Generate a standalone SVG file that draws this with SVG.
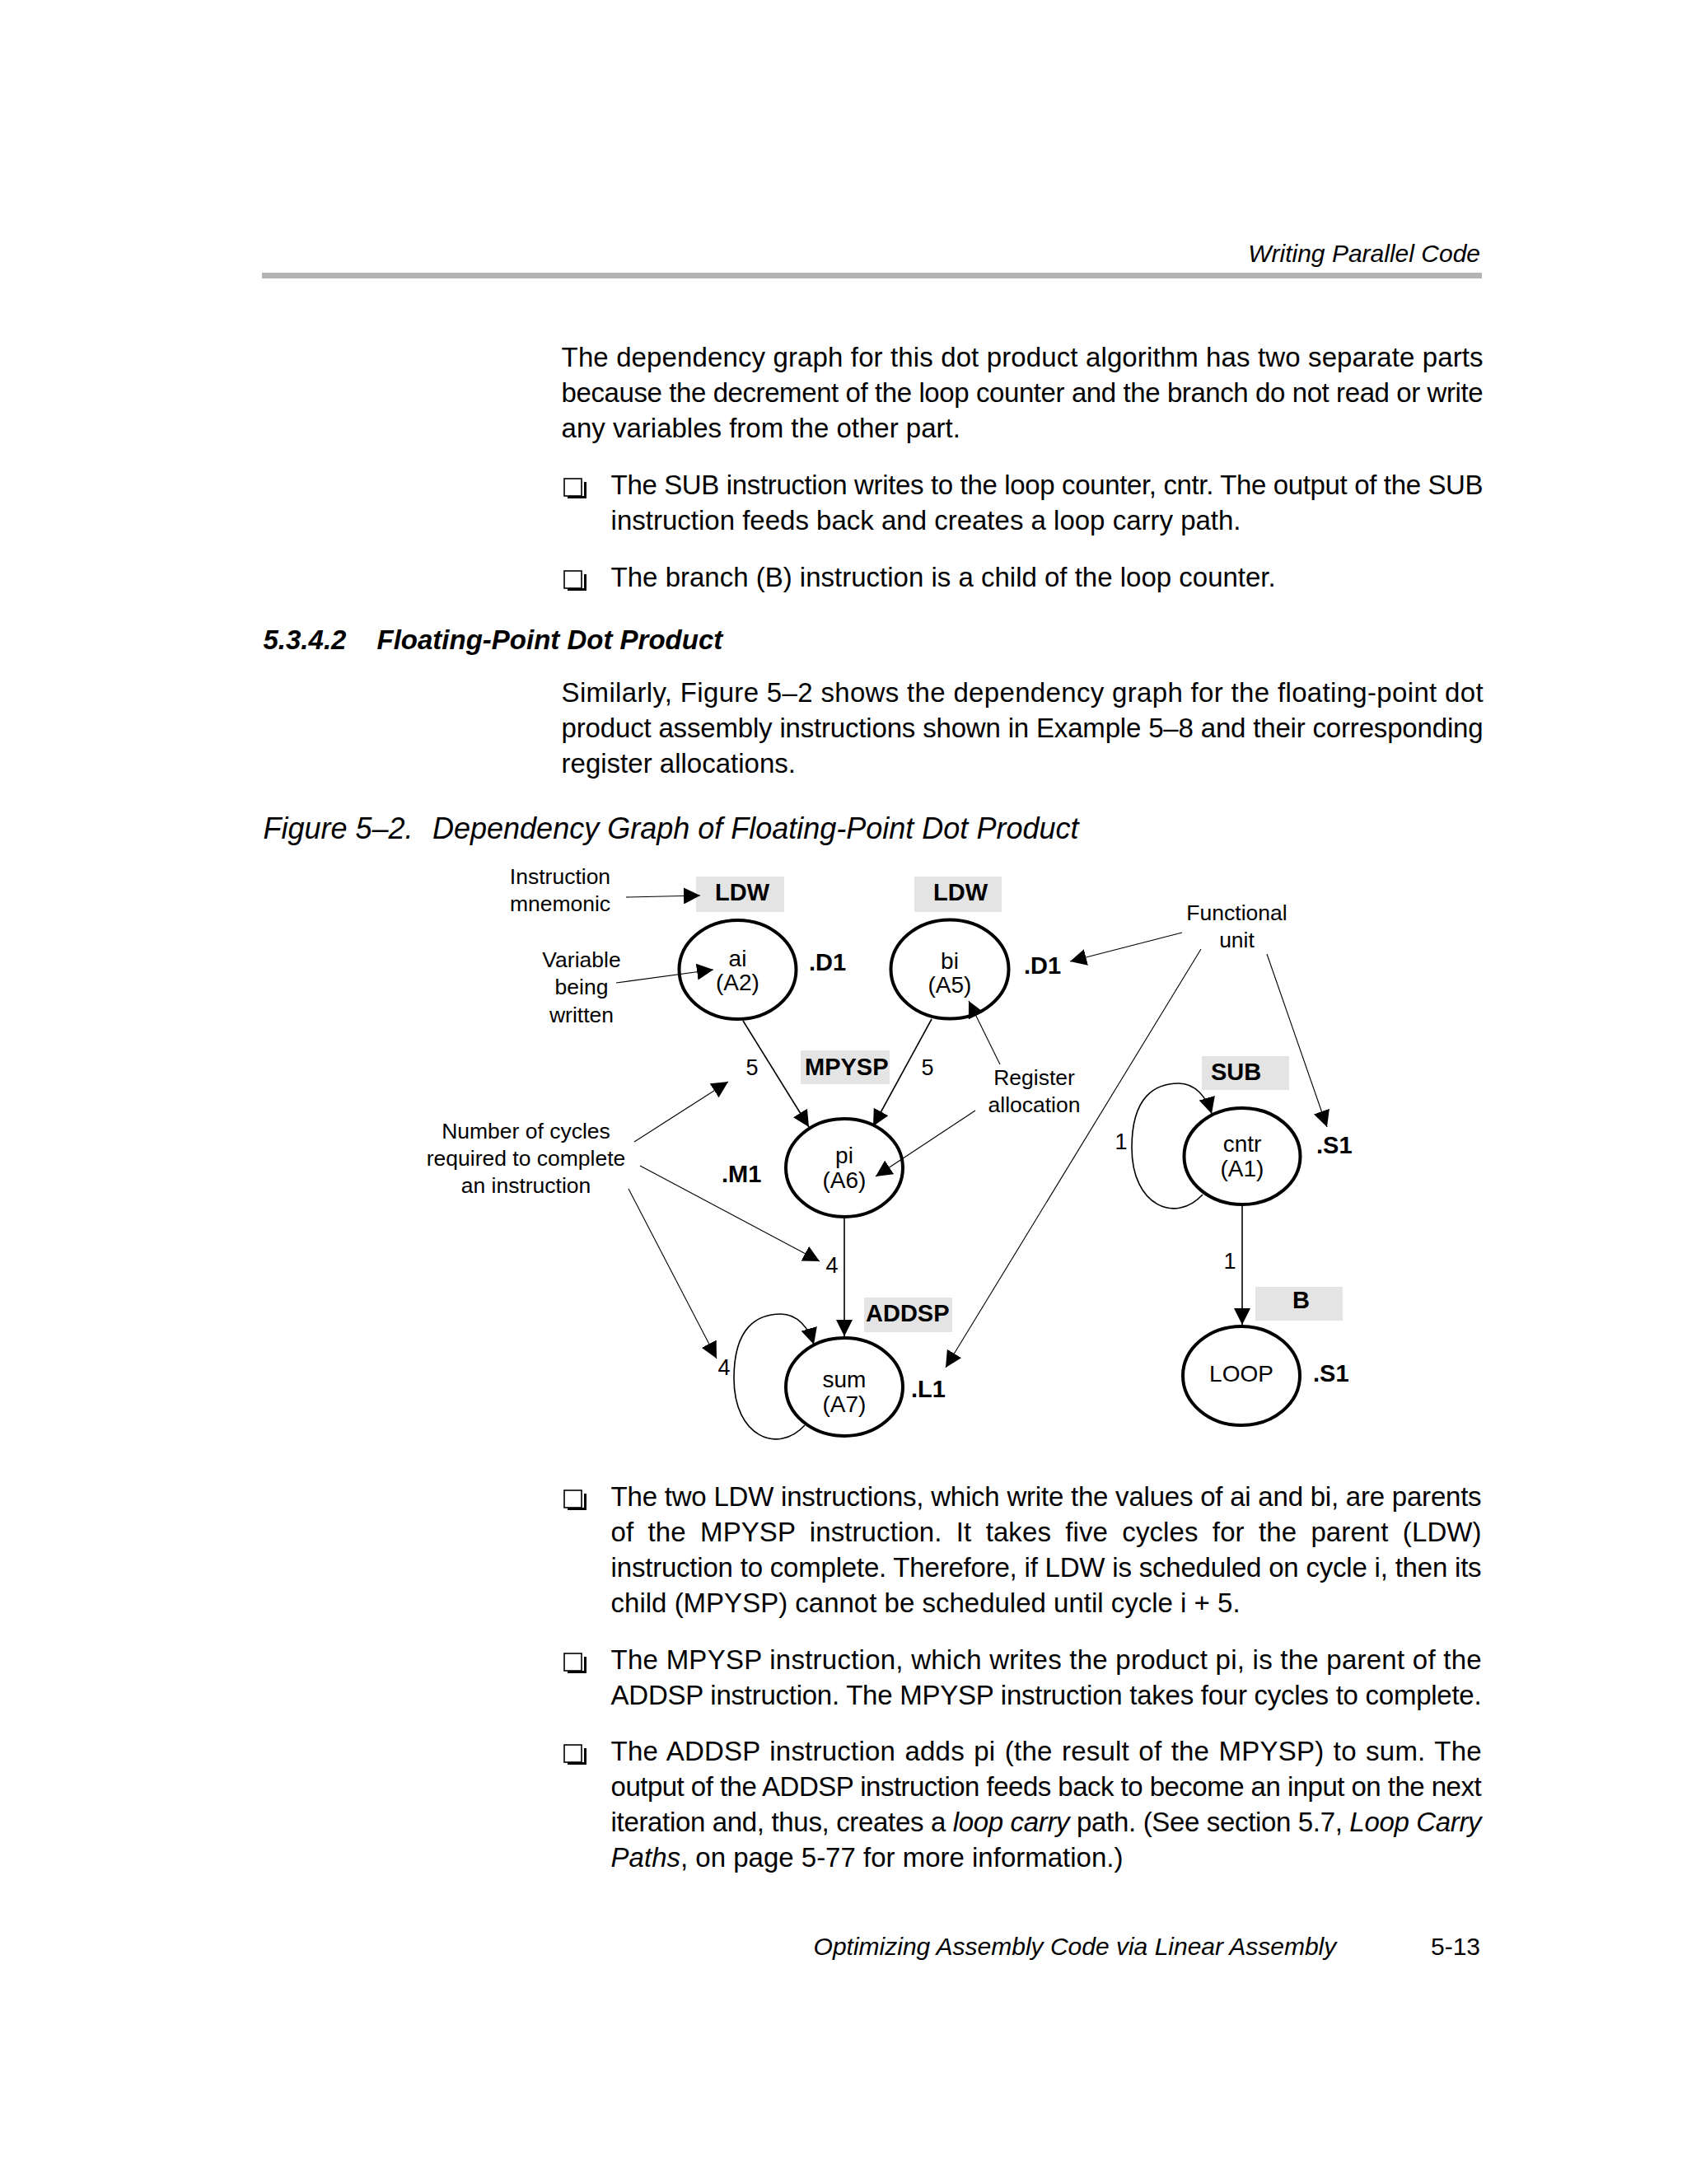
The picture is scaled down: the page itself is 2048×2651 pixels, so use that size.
<svg xmlns="http://www.w3.org/2000/svg" xmlns:xlink="http://www.w3.org/1999/xlink" width="2048" height="2651" viewBox="0 0 2048 2651">
<style>
text { font-family: "Liberation Sans", Arial, Helvetica, sans-serif; fill: #000; }
.body { font-size: 33px; }
.it { font-style: italic; }
.hdr { font-size: 30px; font-style: italic; }
.head { font-size: 33px; font-weight: bold; font-style: italic; }
.cap { font-size: 36px; font-style: italic; }
.ann { font-size: 26.5px; text-anchor: middle; }
.num { font-size: 27px; text-anchor: middle; }
.mn { font-size: 29px; font-weight: bold; }
.nt { font-size: 28px; text-anchor: middle; }
.node { fill: none; stroke: #000; stroke-width: 4; }
.box { fill: #e4e4e4; stroke: none; }
.edge { fill: none; stroke: #000; stroke-width: 1.6; }
.note { fill: none; stroke: #000; stroke-width: 1.1; }
</style>
<defs>
<marker id="ah" markerUnits="userSpaceOnUse" viewBox="0 0 20 20" markerWidth="20" markerHeight="20" refX="20" refY="10" orient="auto">
<path d="M0,0 L20,10 L0,20 z" fill="#000"/>
</marker>
<g id="chk">
<rect x="685" y="-19" width="21" height="21" fill="none" stroke="#000" stroke-width="1.6"/>
<path d="M689,2 L709,2 L709,-15 L712,-15 L712,5 L689,5 z" fill="#000"/>
</g>
</defs>
<rect width="2048" height="2651" fill="#fff"/>

<!-- page header -->
<g id="header">
<text class="hdr" x="1797" y="318" text-anchor="end">Writing Parallel Code</text>
<rect x="318" y="331" width="1481" height="7" fill="#b3b3b3"/>
</g>

<!-- intro paragraph -->
<g id="intro">
<text class="body" x="681.6" y="445" textLength="1119" lengthAdjust="spacing">The dependency graph for this dot product algorithm has two separate parts</text>
<text class="body" x="681.6" y="488" textLength="1119" lengthAdjust="spacing">because the decrement of the loop counter and the branch do not read or write</text>
<text class="body" x="681.6" y="531">any variables from the other part.</text>
<use xlink:href="#chk" href="#chk" y="600"/>
<text class="body" x="741.6" y="600" textLength="1059" lengthAdjust="spacing">The SUB instruction writes to the loop counter, cntr. The output of the SUB</text>
<text class="body" x="741.6" y="643">instruction feeds back and creates a loop carry path.</text>
<use xlink:href="#chk" href="#chk" y="712"/>
<text class="body" x="741.6" y="712">The branch (B) instruction is a child of the loop counter.</text>
</g>

<g id="section">
<text class="head" x="319.5" y="788">5.3.4.2</text>
<text class="head" x="457.5" y="788">Floating-Point Dot Product</text>
<text class="body" x="681.6" y="852" textLength="1119" lengthAdjust="spacing">Similarly, Figure 5–2 shows the dependency graph for the floating-point dot</text>
<text class="body" x="681.6" y="895" textLength="1119" lengthAdjust="spacing">product assembly instructions shown in Example 5–8 and their corresponding</text>
<text class="body" x="681.6" y="938">register allocations.</text>
<text class="cap" x="319.5" y="1018">Figure 5–2.<tspan x="525">Dependency Graph of Floating-Point Dot Product</tspan></text>
</g>

<!-- annotations -->
<g id="annotations">
<text class="ann" x="680" y="1073">Instruction</text>
<text class="ann" x="680" y="1106">mnemonic</text>
<text class="ann" x="706" y="1174">Variable</text>
<text class="ann" x="706" y="1207">being</text>
<text class="ann" x="706" y="1241">written</text>
<text class="ann" x="638.5" y="1382">Number of cycles</text>
<text class="ann" x="638.5" y="1415">required to complete</text>
<text class="ann" x="638.5" y="1448">an instruction</text>
<text class="ann" x="1255.5" y="1317">Register</text>
<text class="ann" x="1255.5" y="1350">allocation</text>
<text class="ann" x="1501.5" y="1117">Functional</text>
<text class="ann" x="1501.5" y="1150">unit</text>
</g>

<!-- nodes -->
<g id="node-ai">
<rect class="box" x="845" y="1064" width="107" height="43"/>
<text class="mn" x="868" y="1093">LDW</text>
<ellipse class="node" cx="895.5" cy="1177" rx="71" ry="60"/>
<text class="nt" x="895.5" y="1173">ai</text>
<text class="nt" x="895.5" y="1202">(A2)</text>
<text class="mn" x="982" y="1178">.D1</text>
</g>
<g id="node-bi">
<rect class="box" x="1110" y="1064" width="106" height="43"/>
<text class="mn" x="1133" y="1093">LDW</text>
<ellipse class="node" cx="1153" cy="1176.5" rx="71.5" ry="60"/>
<text class="nt" x="1153" y="1176">bi</text>
<text class="nt" x="1153" y="1205">(A5)</text>
<text class="mn" x="1243" y="1182">.D1</text>
</g>
<g id="node-pi">
<rect class="box" x="972" y="1275" width="108" height="41"/>
<text class="mn" x="977" y="1305">MPYSP</text>
<ellipse class="node" cx="1025" cy="1417.5" rx="71" ry="59.5"/>
<text class="nt" x="1025" y="1412">pi</text>
<text class="nt" x="1025" y="1442">(A6)</text>
<text class="mn" x="876" y="1435">.M1</text>
</g>
<g id="node-sum">
<rect class="box" x="1049" y="1575" width="107" height="42"/>
<text class="mn" x="1051" y="1604">ADDSP</text>
<ellipse class="node" cx="1025" cy="1683.5" rx="71" ry="59.5"/>
<text class="nt" x="1025" y="1684">sum</text>
<text class="nt" x="1025" y="1714">(A7)</text>
<text class="mn" x="1106" y="1696">.L1</text>
</g>
<g id="node-cntr">
<rect class="box" x="1459" y="1282" width="106" height="41"/>
<text class="mn" x="1470" y="1311">SUB</text>
<ellipse class="node" cx="1508" cy="1403.5" rx="70.5" ry="58.5"/>
<text class="nt" x="1508" y="1398">cntr</text>
<text class="nt" x="1508" y="1428">(A1)</text>
<text class="mn" x="1598" y="1400">.S1</text>
</g>
<g id="node-loop">
<rect class="box" x="1524" y="1562" width="106" height="41"/>
<text class="mn" x="1569" y="1588">B</text>
<ellipse class="node" cx="1507" cy="1670" rx="71" ry="60"/>
<text class="nt" x="1507" y="1677">LOOP</text>
<text class="mn" x="1594" y="1677">.S1</text>
</g>

<!-- connectors -->
<g id="connectors">
<line class="edge" x1="902" y1="1239" x2="982" y2="1368" marker-end="url(#ah)"/>
<line class="edge" x1="1131" y1="1237" x2="1060" y2="1367" marker-end="url(#ah)"/>
<line class="edge" x1="1025" y1="1479" x2="1025" y2="1622" marker-end="url(#ah)"/>
<path class="edge" d="M977,1730 C945,1765 891,1745 891,1673 C891,1610 920,1595 948,1595 C968,1595 982,1612 988,1632" marker-end="url(#ah)"/>
<path class="edge" d="M1460,1450 C1428,1485 1374,1465 1374,1393 C1374,1330 1403,1315 1431,1315 C1451,1315 1465,1332 1471,1352" marker-end="url(#ah)"/>
<line class="edge" x1="1508" y1="1464" x2="1508" y2="1608" marker-end="url(#ah)"/>
<text class="num" x="913" y="1305">5</text>
<text class="num" x="1126" y="1305">5</text>
<text class="num" x="1010" y="1545">4</text>
<text class="num" x="879" y="1669">4</text>
<text class="num" x="1361" y="1395">1</text>
<text class="num" x="1493" y="1540">1</text>
<line class="note" x1="760" y1="1089" x2="850" y2="1087" marker-end="url(#ah)"/>
<line class="note" x1="748" y1="1193" x2="866" y2="1177" marker-end="url(#ah)"/>
<line class="note" x1="770" y1="1386" x2="884" y2="1313" marker-end="url(#ah)"/>
<line class="note" x1="777" y1="1415" x2="995" y2="1531" marker-end="url(#ah)"/>
<line class="note" x1="763" y1="1443" x2="870" y2="1649" marker-end="url(#ah)"/>
<line class="note" x1="1214" y1="1292" x2="1176" y2="1215" marker-end="url(#ah)"/>
<line class="note" x1="1184" y1="1348" x2="1063" y2="1428" marker-end="url(#ah)"/>
<line class="note" x1="1435" y1="1132" x2="1299" y2="1167" marker-end="url(#ah)"/>
<line class="note" x1="1458" y1="1152" x2="1148" y2="1660" marker-end="url(#ah)"/>
<line class="note" x1="1538" y1="1158" x2="1611" y2="1368" marker-end="url(#ah)"/>
</g>

<!-- bullets after figure -->
<g id="after">
<use xlink:href="#chk" href="#chk" y="1828"/>
<text class="body" x="741.6" y="1828" textLength="1057" lengthAdjust="spacing">The two LDW instructions, which write the values of ai and bi, are parents</text>
<text class="body" x="741.6" y="1871" word-spacing="8" textLength="1057" lengthAdjust="spacing">of the MPYSP instruction. It takes five cycles for the parent (LDW)</text>
<text class="body" x="741.6" y="1914" textLength="1057" lengthAdjust="spacing">instruction to complete. Therefore, if LDW is scheduled on cycle i, then its</text>
<text class="body" x="741.6" y="1957">child (MPYSP) cannot be scheduled until cycle i + 5.</text>
<use xlink:href="#chk" href="#chk" y="2026"/>
<text class="body" x="741.6" y="2026" textLength="1057" lengthAdjust="spacing">The MPYSP instruction, which writes the product pi, is the parent of the</text>
<text class="body" x="741.6" y="2069" textLength="1057" lengthAdjust="spacing">ADDSP instruction. The MPYSP instruction takes four cycles to complete.</text>
<use xlink:href="#chk" href="#chk" y="2137"/>
<text class="body" x="741.6" y="2137" word-spacing="2" textLength="1057" lengthAdjust="spacing">The ADDSP instruction adds pi (the result of the MPYSP) to sum. The</text>
<text class="body" x="741.6" y="2180" textLength="1057" lengthAdjust="spacing">output of the ADDSP instruction feeds back to become an input on the next</text>
<text class="body" x="741.6" y="2223" textLength="1057" lengthAdjust="spacing">iteration and, thus, creates a <tspan class="it">loop carry</tspan> path. (See section 5.7, <tspan class="it">Loop Carry</tspan></text>
<text class="body" x="741.6" y="2266"><tspan class="it">Paths</tspan>, on page 5-77 for more information.)</text>
</g>

<g id="footer">
<text class="hdr" x="987.6" y="2373">Optimizing Assembly Code via Linear Assembly</text>
<text x="1797" y="2373" font-size="30" text-anchor="end">5-13</text>
</g>
</svg>
